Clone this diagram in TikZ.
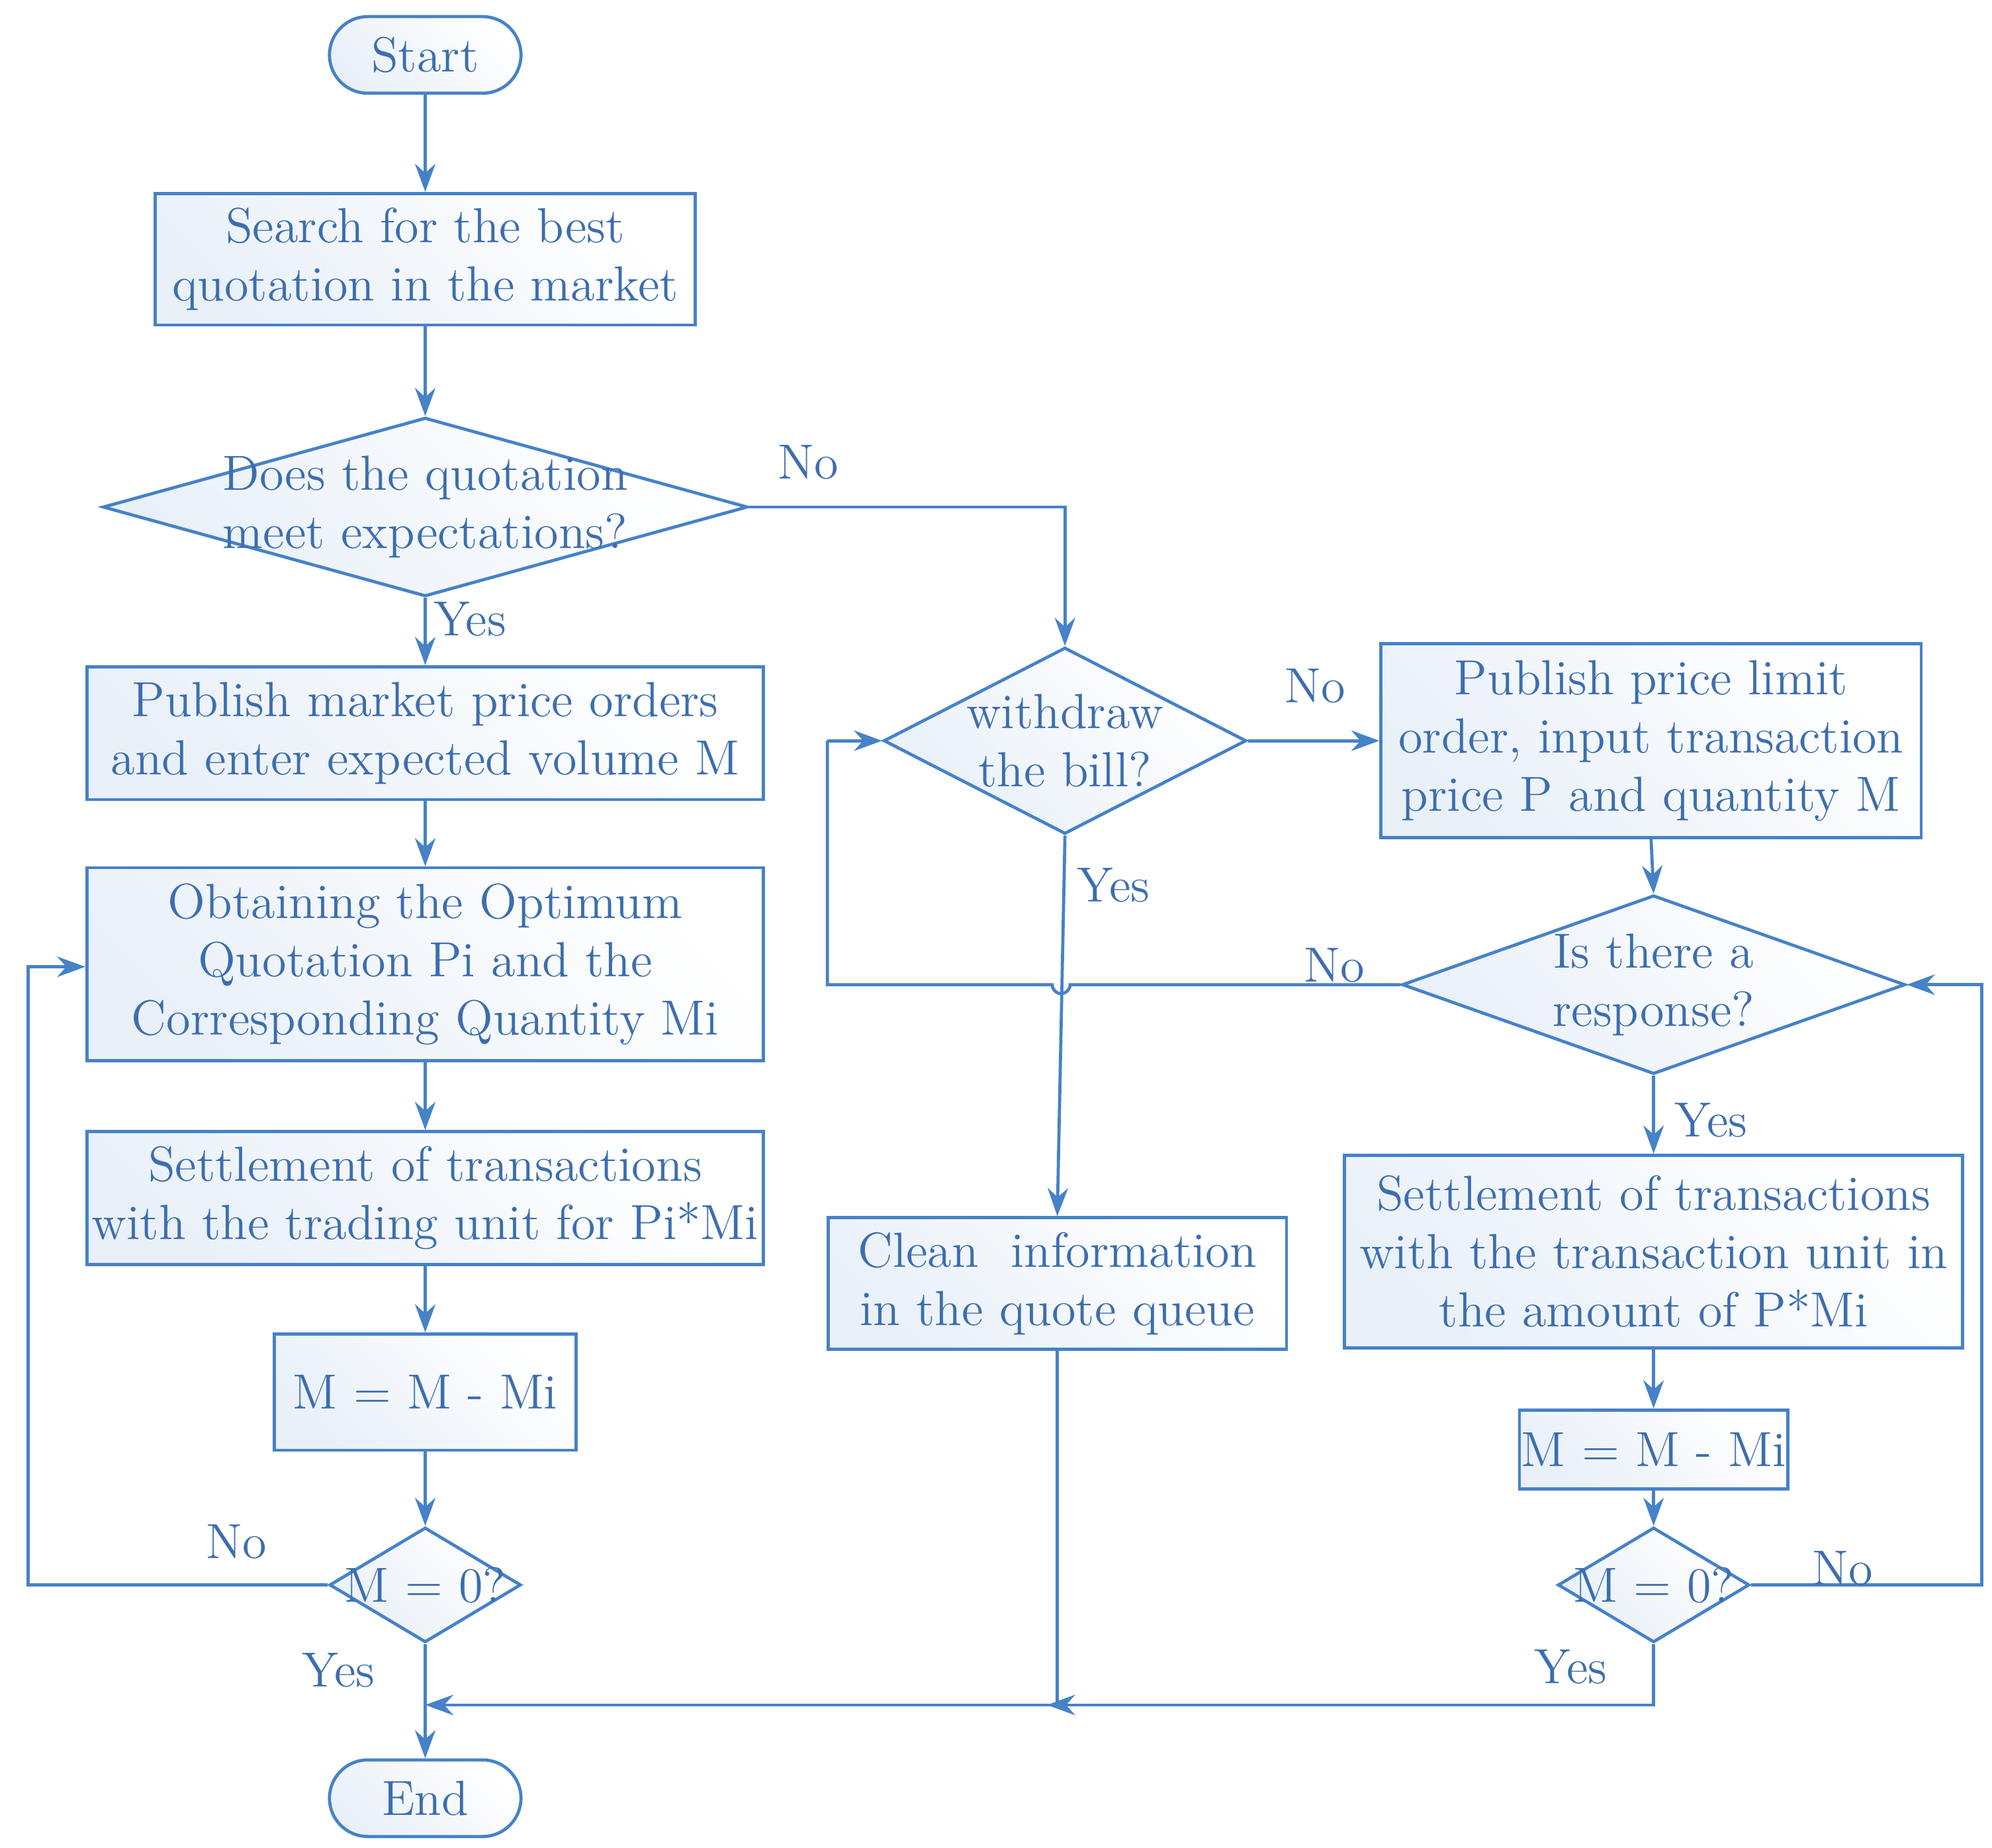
\documentclass[tikz,border=0pt]{standalone}
\usetikzlibrary{shapes.geometric,arrows.meta}
\begin{document}
\definecolor{lb}{RGB}{70,130,200}
\definecolor{tb}{RGB}{60,110,175}
\begin{tikzpicture}[x=0.1mm,y=-0.1mm,
  every node/.style={font=\fontsize{11}{13}\selectfont,text=tb,align=center},
  base/.style={draw=lb,line width=0.7pt,left color=lb!12,right color=white,shading angle=135,align=center,inner sep=0pt},
  box/.style={base,rectangle},
  term/.style={base,rectangle,rounded corners=3mm,minimum width=15mm,minimum height=6mm},
  lbl/.style={text=tb},
  ar/.style={draw=lb,line width=0.7pt,-{Stealth[length=2.2mm,width=1.6mm]}},
  ln/.style={draw=lb,line width=0.7pt}]
\useasboundingbox (0,0) rectangle (1560,1447);
\node[term] (start) at (333,43) {Start};
\node[box,minimum width=42.3mm,minimum height=10.3mm] (search) at (333,203) {Search for the best\\quotation in the market};
\node[box,diamond,minimum width=50.5mm,minimum height=14mm,aspect=3.6] (d1) at (333,397) {};
\node at (333,397) {Does the quotation\\meet expectations?};
\node[box,minimum width=53mm,minimum height=10.4mm] (pub) at (333,574) {Publish market price orders\\and enter expected volume M};
\node[box,minimum width=53mm,minimum height=15.1mm] (obt) at (333,755) {Obtaining the Optimum\\Quotation Pi and the\\Corresponding Quantity Mi};
\node[box,minimum width=53mm,minimum height=10.4mm] (set) at (333,938) {Settlement of transactions\\with the trading unit for Pi*Mi};
\node[box,minimum width=23.6mm,minimum height=9.1mm] (mm) at (333,1090) {M = M - Mi};
\node[box,diamond,minimum width=15mm,minimum height=9mm,aspect=1.67] (d0) at (333,1241) {};
\node at (333,1241) {M = 0?};
\node[term] (end) at (333,1408) {End};
\node[box,diamond,minimum width=28.4mm,minimum height=14.6mm,aspect=1.95] (wd) at (834,580) {};
\node at (834,580) {withdraw\\the bill?};
\node[box,minimum width=42.3mm,minimum height=15.2mm] (lim) at (1293,580) {Publish price limit\\order, input transaction\\price P and quantity M};
\node[box,diamond,minimum width=39.4mm,minimum height=14mm,aspect=2.8] (resp) at (1295,771) {};
\node at (1295,771) {Is there a\\response?};
\node[box,minimum width=35.9mm,minimum height=10.3mm] (cln) at (828,1005) {Clean\ \ information\\in the quote queue};
\node[box,minimum width=48.4mm,minimum height=15.1mm] (setr) at (1295,980) {Settlement of transactions\\with the transaction unit in\\the amount of P*Mi};
\node[box,minimum width=21mm,minimum height=6.2mm] (mmr) at (1295,1135) {M = M - Mi};
\node[box,diamond,minimum width=15mm,minimum height=9mm,aspect=1.67] (dr) at (1295,1241) {};
\node at (1295,1241) {M = 0?};
\coordinate (j1) at (828,1335);
\coordinate (j2) at (333,1335);
\draw[ar] (start) -- (search);
\draw[ar] (search) -- (d1);
\draw[ar] (d1) -- (pub);
\draw[ar] (pub) -- (obt);
\draw[ar] (obt) -- (set);
\draw[ar] (set) -- (mm);
\draw[ar] (mm) -- (d0);
\draw[ar] (d0) -- (end);
\draw[ar] (d0.west) -- (22,1241) -- (22,757) -- (obt.west|-0,757);
\draw[ar] (d1.east) -- (834,397) -- (wd.north);
\draw[ar] (wd.east) -- (lim.west|-wd.east);
\draw[ar] (wd.south) -- (cln.north);
\draw[ar] (lim.south) -- (resp.north);
\draw[ln] (resp.west) -- (838,771) arc[start angle=0,end angle=180,radius=7] -- (648,771) -- (648,580);
\draw[ar] (648,580) -- (wd.west);
\draw[ar] (resp) -- (setr);
\draw[ar] (setr) -- (mmr);
\draw[ar] (mmr) -- (dr);
\draw[ar] (dr.east) -- (1552,1241) -- (1552,771) -- (resp.east);
\draw[ar] (dr.south) -- (1295,1335) -- (820,1335);
\draw[ln] (cln.south) -- (j1);
\draw[ar] (j1) -- (j2);
\node[lbl] at (368,485) {Yes};
\node[lbl] at (265,1308) {Yes};
\node[lbl] at (185,1207) {No};
\node[lbl] at (633,362) {No};
\node[lbl] at (1030,537) {No};
\node[lbl] at (872,693) {Yes};
\node[lbl] at (1045,756) {No};
\node[lbl] at (1340,877) {Yes};
\node[lbl] at (1443,1228) {No};
\node[lbl] at (1230,1305) {Yes};
\end{tikzpicture}
\end{document}
